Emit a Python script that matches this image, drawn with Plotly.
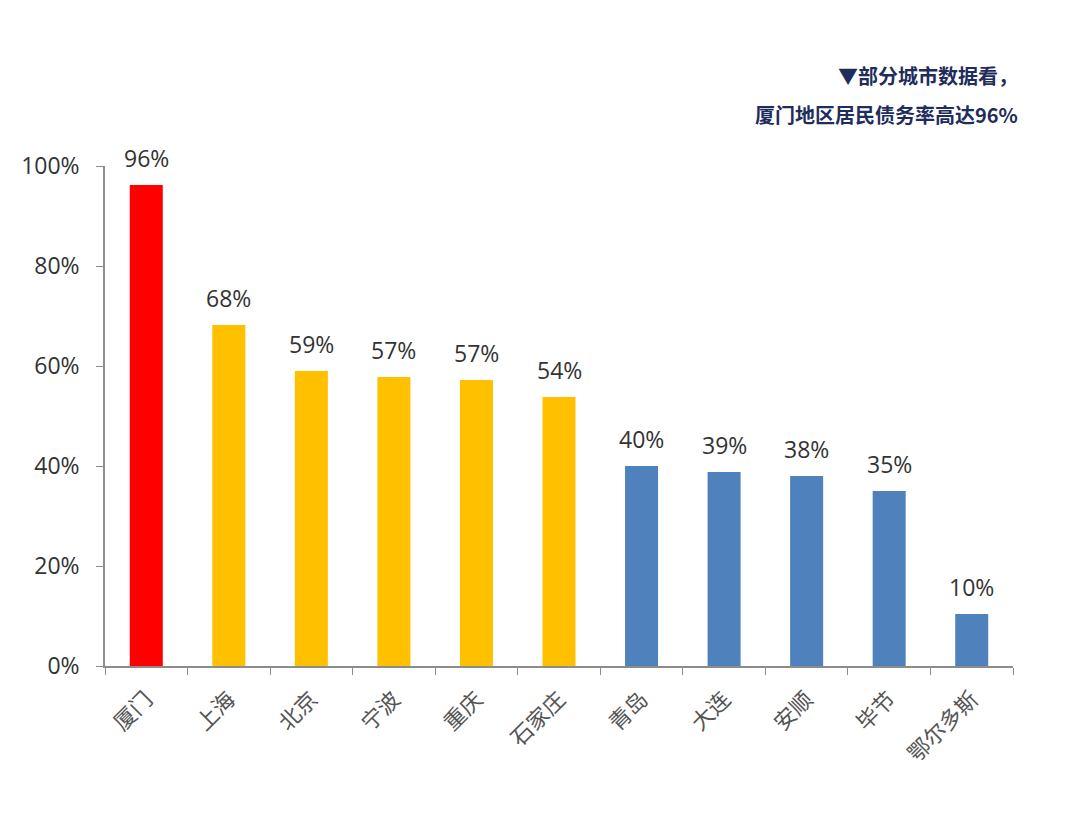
import plotly.graph_objects as go

cities = ["厦门", "上海", "北京", "宁波", "重庆", "石家庄", "青岛", "大连", "安顺", "毕节", "鄂尔多斯"]
values = [96.2, 68.2, 59.0, 57.8, 57.2, 53.8, 40.0, 38.8, 38.0, 35.0, 10.4]
labels = ["96%", "68%", "59%", "57%", "57%", "54%", "40%", "39%", "38%", "35%", "10%"]
colors = ["#FF0000"] + ["#FFC000"] * 5 + ["#4F81BD"] * 5
y_ticks = [0, 20, 40, 60, 80, 100]
y_tick_text = ["0%", "20%", "40%", "60%", "80%", "100%"]

L, R, T, B, W, H = 105, 55, 166, 157, 1068, 823
pw, ph = W - L - R, H - T - B

fig = go.Figure(go.Bar(
    x=cities, y=values, marker=dict(color=colors, line=dict(width=0)),
    width=0.4, cliponaxis=False,
))

annotations = []
for c, v, t in zip(cities, values, labels):
    annotations.append(dict(
        x=c, y=v, xref="x", yref="y", text=t, showarrow=False,
        xanchor="center", yanchor="middle", yshift=27,
        font=dict(size=23, color="#333333", family="Open Sans"),
    ))
for txt, py in [("<b>▼部分城市数据看，</b>", 75), ("<b>厦门地区居民债务率高达96%</b>", 115)]:
    annotations.append(dict(
        text=txt, x=(1020 - L) / pw, y=1 - (py - T) / ph, xref="paper", yref="paper",
        showarrow=False, xanchor="right", yanchor="middle",
        font=dict(size=20, color="#1F2D5C", family="Noto Sans CJK SC"),
    ))

fig.update_layout(
    width=W, height=H,
    margin=dict(l=L, r=R, t=T, b=B),
    paper_bgcolor="white", plot_bgcolor="white",
    showlegend=False,
    font=dict(family="Noto Sans CJK SC", color="#333333"),
    annotations=annotations,
)

fig.update_yaxes(
    range=[0, 100], tickvals=y_ticks, ticktext=y_tick_text,
    showgrid=False, zeroline=False, showline=True, linecolor="#8C8C8C", linewidth=1.5,
    ticks="outside", ticklen=7, tickcolor="#8C8C8C", ticklabelstandoff=12,
    tickfont=dict(size=23, color="#333333", family="Open Sans"),
)
fig.update_xaxes(
    showgrid=False, showline=True, linecolor="#8C8C8C", linewidth=1.5,
    ticks="outside", ticklen=7, tickcolor="#8C8C8C", tickson="boundaries",
    ticklabelstandoff=10,
    tickangle=-45, tickfont=dict(size=22, color="#555555", family="Noto Sans CJK SC"),
)

fig.write_html("out.html")
